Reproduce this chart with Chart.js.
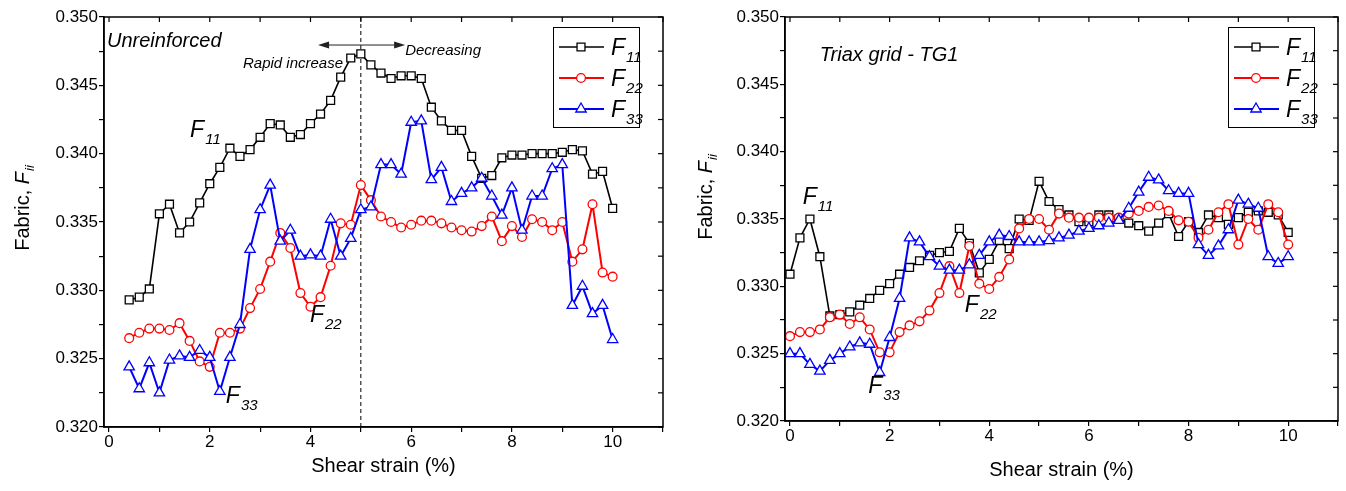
<!DOCTYPE html>
<html>
<head>
<meta charset="utf-8">
<script src="https://cdn.jsdelivr.net/npm/chart.js@4.4.0/dist/chart.umd.min.js"></script>
<style>
  html, body { margin: 0; padding: 0; background: #fff; }
  #wrap { position: relative; width: 1346px; height: 491px; overflow: hidden; }
  canvas { position: absolute; top: 0; }
  #left { left: 0; }
  #right { left: 672px; }
</style>
</head>
<body>
<div id="wrap">
  <canvas id="left" width="672" height="491"></canvas>
  <canvas id="right" width="674" height="491"></canvas>
</div>
<script>
const FONT = '"Liberation Sans", Arial, sans-serif';
Chart.defaults.font.family = FONT;
Chart.defaults.color = '#000';

// --- Unreinforced sample ---
const strainUnreinforced = [
  0.4, 0.6, 0.8, 1.0, 1.2, 1.4, 1.6, 1.8, 2.0, 2.2, 2.4, 2.6, 2.8, 3.0, 3.2, 3.4, 3.6, 3.8,
  4.0, 4.2, 4.4, 4.6, 4.8, 5.0, 5.2, 5.4, 5.6, 5.8, 6.0, 6.2, 6.4, 6.6, 6.8, 7.0, 7.2, 7.4,
  7.6, 7.8, 8.0, 8.2, 8.4, 8.6, 8.8, 9.0, 9.2, 9.4, 9.6, 9.8, 10.0
];
const f11Unreinforced = [
  0.3293, 0.3295, 0.3301, 0.3356, 0.3363, 0.3342, 0.3350, 0.3364, 0.3378, 0.3390, 0.3404, 0.3398,
  0.3403, 0.3412, 0.3422, 0.3421, 0.3412, 0.3414, 0.3422, 0.3429, 0.3439, 0.3456, 0.3470, 0.3473,
  0.3465, 0.3459, 0.3455, 0.3457, 0.3457, 0.3455, 0.3434, 0.3424, 0.3417, 0.3417, 0.3398, 0.3382,
  0.3384, 0.3397, 0.3399, 0.3399, 0.3400, 0.3400, 0.3400, 0.3401, 0.3403, 0.3402, 0.3385, 0.3387,
  0.3360
];
const f22Unreinforced = [
  0.3265, 0.3269, 0.3272, 0.3272, 0.3271, 0.3276, 0.3263, 0.3248, 0.3244, 0.3269, 0.3269, 0.3272,
  0.3287, 0.3301, 0.3321, 0.3342, 0.3331, 0.3298, 0.3288, 0.3295, 0.3318, 0.3349, 0.3348, 0.3377,
  0.3366, 0.3354, 0.3350, 0.3346, 0.3348, 0.3351, 0.3351, 0.3349, 0.3346, 0.3344, 0.3343, 0.3347,
  0.3354, 0.3336, 0.3347, 0.3339, 0.3352, 0.3350, 0.3344, 0.3350, 0.3321, 0.3330, 0.3363, 0.3313,
  0.3310
];
const f33Unreinforced = [
  0.3244, 0.3228, 0.3247, 0.3225, 0.3249, 0.3252, 0.3251, 0.3256, 0.3251, 0.3226, 0.3251, 0.3275,
  0.3330, 0.3359, 0.3377, 0.3336, 0.3344, 0.3325, 0.3326, 0.3325, 0.3352, 0.3325, 0.3338, 0.3359,
  0.3361, 0.3392, 0.3392, 0.3385, 0.3423, 0.3424, 0.3381, 0.3390, 0.3365, 0.3371, 0.3375, 0.3382,
  0.3369, 0.3355, 0.3375, 0.3344, 0.3369, 0.3369, 0.3389, 0.3392, 0.3289, 0.3303, 0.3283, 0.3289,
  0.3264
];

// --- Triax grid TG1 sample ---
const strainTriax = [
  0.0, 0.2, 0.4, 0.6, 0.8, 1.0, 1.2, 1.4, 1.6, 1.8, 2.0, 2.2, 2.4, 2.6, 2.8, 3.0, 3.2, 3.4, 3.6,
  3.8, 4.0, 4.2, 4.4, 4.6, 4.8, 5.0, 5.2, 5.4, 5.6, 5.8, 6.0, 6.2, 6.4, 6.6, 6.8, 7.0, 7.2, 7.4,
  7.6, 7.8, 8.0, 8.2, 8.4, 8.6, 8.8, 9.0, 9.2, 9.4, 9.6, 9.8, 10.0
];
const f11Triax = [
  0.3309, 0.3336, 0.3350, 0.3322, 0.3278, 0.3279, 0.3281, 0.3286, 0.3291, 0.3297, 0.3302, 0.3309,
  0.3314, 0.3319, 0.3323, 0.3325, 0.3326, 0.3343, 0.3332, 0.3310, 0.3320, 0.3334, 0.3328, 0.3350,
  0.3349, 0.3378, 0.3363, 0.3357, 0.3353, 0.3348, 0.3348, 0.3353, 0.3353, 0.3350, 0.3347, 0.3345,
  0.3341, 0.3347, 0.3354, 0.3337, 0.3348, 0.3340, 0.3353, 0.3351, 0.3346, 0.3351, 0.3355, 0.3356,
  0.3355, 0.3353, 0.3340
];
const f22Triax = [
  0.3263, 0.3266, 0.3266, 0.3268, 0.3277, 0.3279, 0.3272, 0.3277, 0.3268, 0.3251, 0.3251, 0.3266,
  0.3271, 0.3274, 0.3282, 0.3295, 0.3315, 0.3295, 0.3330, 0.3302, 0.3298, 0.3307, 0.3320, 0.3343,
  0.3350, 0.3350, 0.3342, 0.3354, 0.3351, 0.3351, 0.3351, 0.3351, 0.3351, 0.3351, 0.3354, 0.3356,
  0.3359, 0.3360, 0.3356, 0.3349, 0.3348, 0.3336, 0.3342, 0.3355, 0.3361, 0.3331, 0.3350, 0.3342,
  0.3361, 0.3355, 0.3331
];
const f33Triax = [
  0.3250, 0.3250, 0.3242, 0.3237, 0.3245, 0.3250, 0.3255, 0.3258, 0.3257, 0.3236, 0.3262, 0.3291,
  0.3336, 0.3333, 0.3322, 0.3315, 0.3312, 0.3312, 0.3316, 0.3323, 0.3333, 0.3338, 0.3337, 0.3333,
  0.3333, 0.3333, 0.3334, 0.3336, 0.3338, 0.3341, 0.3343, 0.3345, 0.3347, 0.3349, 0.3358, 0.3370,
  0.3381, 0.3379, 0.3371, 0.3369, 0.3369, 0.3331, 0.3323, 0.3330, 0.3342, 0.3364, 0.3361, 0.3358,
  0.3322, 0.3317, 0.3322
];

// tick labels
const xTickLabels = ['0', '2', '4', '6', '8', '10'];
const yTickLabels = ['0.320', '0.325', '0.330', '0.335', '0.340', '0.345', '0.350'];

// one entry per fabric component
const seriesStyle = [
  { sub: '11', color: '#000000', width: 1.6, pointStyle: 'rect', radius: 5.6 },
  { sub: '22', color: '#ff0000', width: 2, pointStyle: 'circle', radius: 4.4 },
  { sub: '33', color: '#0000ff', width: 2, pointStyle: 'triangle', radius: 6 }
];

function line(ctx, x1, y1, x2, y2) {
  ctx.beginPath();
  ctx.moveTo(x1, y1);
  ctx.lineTo(x2, y2);
  ctx.stroke();
}

// same shapes as Chart.js point styles, used for the legend
function drawMarker(ctx, s, x, y) {
  const r = s.radius;
  ctx.beginPath();
  if (s.pointStyle === 'rect') {
    const d = r * Math.SQRT1_2;
    ctx.rect(x - d, y - d, 2 * d, 2 * d);
  } else if (s.pointStyle === 'circle') {
    ctx.arc(x, y, r, 0, Math.PI * 2);
  } else {
    ctx.moveTo(x, y - r);
    ctx.lineTo(x + r * 0.866, y + r * 0.5);
    ctx.lineTo(x - r * 0.866, y + r * 0.5);
    ctx.closePath();
  }
  ctx.fillStyle = '#fff';
  ctx.fill();
  ctx.strokeStyle = s.color;
  ctx.lineWidth = 1.3;
  ctx.stroke();
}

// "F" with an italic subscript
function fLabel(ctx, x, y, sub) {
  ctx.fillStyle = '#000';
  ctx.textBaseline = 'alphabetic';
  ctx.textAlign = 'left';
  ctx.font = 'italic 23px ' + FONT;
  ctx.fillText('F', x, y);
  const w = ctx.measureText('F').width;
  ctx.font = 'italic 15px ' + FONT;
  ctx.fillText(sub, x + w + 1, y + 7);
}

function italicText(ctx, text, size, x, y) {
  ctx.fillStyle = '#000';
  ctx.textBaseline = 'alphabetic';
  ctx.textAlign = 'left';
  ctx.font = 'italic ' + size + 'px ' + FONT;
  ctx.fillText(text, x, y);
}

function drawLegend(ctx, area) {
  const w = 86, h = 100;
  const left = area.right - 24 - w, top = area.top + 10;
  ctx.lineWidth = 1;
  ctx.strokeStyle = '#000';
  ctx.strokeRect(left + 0.5, top + 0.5, w, h);
  seriesStyle.forEach((s, i) => {
    const yy = top + 20 + i * 31;
    ctx.strokeStyle = s.color;
    ctx.lineWidth = s.width;
    line(ctx, left + 6, yy, left + 51, yy);
    drawMarker(ctx, s, left + 28, yy);
    fLabel(ctx, left + 58, yy + 8, s.sub);
  });
}

function drawYTitle(ctx, cx, cy) {
  ctx.save();
  ctx.translate(cx, cy);
  ctx.rotate(-Math.PI / 2);
  ctx.fillStyle = '#000';
  ctx.textBaseline = 'alphabetic';
  ctx.textAlign = 'left';
  ctx.font = '20px ' + FONT;
  const w1 = ctx.measureText('Fabric, ').width;
  ctx.font = 'italic 20px ' + FONT;
  const w2 = ctx.measureText('F').width;
  ctx.font = 'italic 13px ' + FONT;
  const w3 = ctx.measureText('ii').width;
  const x0 = -(w1 + w2 + w3 + 1) / 2;
  ctx.font = '20px ' + FONT;
  ctx.fillText('Fabric, ', x0, 7);
  ctx.font = 'italic 20px ' + FONT;
  ctx.fillText('F', x0 + w1, 7);
  ctx.font = 'italic 13px ' + FONT;
  ctx.fillText('ii', x0 + w1 + w2 + 1, 12);
  ctx.restore();
}

function makeChart(id, cfg) {
  const datasets = cfg.series.map((vals, i) => {
    const s = seriesStyle[i];
    return {
      data: cfg.strain.map((x, j) => ({ x: x, y: vals[j] })),
      borderColor: s.color,
      borderWidth: s.width,
      backgroundColor: '#fff',
      pointStyle: s.pointStyle,
      pointRadius: s.radius,
      pointBackgroundColor: '#fff',
      pointBorderColor: s.color,
      pointBorderWidth: 1.3,
      tension: 0,
      order: 2 - i
    };
  });

  const decor = {
    id: 'decor' + id,
    beforeDatasetsDraw(chart) {
      if (cfg.beforeData) cfg.beforeData(chart.ctx, chart);
    },
    afterDraw(chart) {
      const { ctx, chartArea: a, scales: { x, y } } = chart;
      ctx.save();
      // frame + inward ticks on top and right
      ctx.strokeStyle = '#000';
      ctx.lineWidth = 1.5;
      ctx.strokeRect(a.left, a.top, a.right - a.left, a.bottom - a.top);
      ctx.lineWidth = 1.2;
      x.ticks.forEach(t => {
        const px = x.getPixelForValue(t.value);
        line(ctx, px, a.top, px, a.top + 5);
      });
      y.ticks.forEach(t => {
        const py = y.getPixelForValue(t.value);
        line(ctx, a.right, py, a.right - 5, py);
      });
      drawLegend(ctx, a);
      drawYTitle(ctx, cfg.yTitleX, cfg.yTitleY);
      cfg.annotate(ctx, chart);
      ctx.restore();
    }
  };

  return new Chart(document.getElementById(id), {
    type: 'line',
    data: { datasets: datasets },
    options: {
      responsive: false,
      animation: false,
      events: [],
      layout: { padding: { top: 17, right: cfg.padRight, left: 0, bottom: 0 } },
      plugins: { legend: { display: false }, tooltip: { enabled: false } },
      scales: {
        x: {
          type: 'linear',
          min: -0.1,
          max: 11,
          afterFit: s => { s.height = cfg.xAxisHeight; },
          border: { color: '#000', width: 1.5 },
          grid: { drawOnChartArea: false, drawTicks: true, tickLength: 5, color: '#000', lineWidth: 1.2 },
          ticks: {
            stepSize: 1,
            includeBounds: false,
            autoSkip: false,
            maxRotation: 0,
            padding: 0,
            font: { size: 17 },
            callback: v => xTickLabels.includes(String(v)) ? String(v) : ''
          },
          title: {
            display: true,
            text: 'Shear strain (%)',
            font: { size: 20 },
            padding: { top: 0, bottom: cfg.xTitlePad }
          }
        },
        y: {
          min: 0.320,
          max: 0.350,
          afterFit: s => { s.width = cfg.yAxisWidth; },
          border: { color: '#000', width: 1.5 },
          grid: { drawOnChartArea: false, drawTicks: true, tickLength: 5, color: '#000', lineWidth: 1.2 },
          ticks: {
            stepSize: 0.0025,
            autoSkip: false,
            padding: 1,
            font: { size: 17 },
            callback: v => yTickLabels.includes(v.toFixed(3)) ? v.toFixed(3) : ''
          }
        }
      }
    },
    plugins: [decor]
  });
}

makeChart('left', {
  strain: strainUnreinforced,
  series: [f11Unreinforced, f22Unreinforced, f33Unreinforced],
  padRight: 9,
  yAxisWidth: 104,
  xAxisHeight: 64,
  xTitlePad: 13,
  yTitleX: 22,
  yTitleY: 208,
  beforeData(ctx, chart) {
    const { chartArea: a, scales: { x } } = chart;
    const px = x.getPixelForValue(5);
    ctx.save();
    ctx.strokeStyle = '#000';
    ctx.lineWidth = 1;
    ctx.setLineDash([4, 3]);
    line(ctx, px, a.top, px, a.bottom);
    ctx.restore();
  },
  annotate(ctx, chart) {
    const { x, y } = chart.scales;
    italicText(ctx, 'Unreinforced', 20, x.getPixelForValue(-0.04), y.getPixelForValue(0.34781));
    italicText(ctx, 'Rapid increase', 15, x.getPixelForValue(2.66), y.getPixelForValue(0.34627));
    italicText(ctx, 'Decreasing', 15, x.getPixelForValue(5.88), y.getPixelForValue(0.34722));
    // double arrow from the peak
    const ay = y.getPixelForValue(0.34795);
    const xl = x.getPixelForValue(4.15), xr = x.getPixelForValue(5.88);
    ctx.strokeStyle = '#222';
    ctx.fillStyle = '#222';
    ctx.lineWidth = 1;
    line(ctx, xl + 6, ay, xr - 6, ay);
    ctx.beginPath();
    ctx.moveTo(xl, ay); ctx.lineTo(xl + 11, ay - 3.5); ctx.lineTo(xl + 11, ay + 3.5); ctx.closePath(); ctx.fill();
    ctx.beginPath();
    ctx.moveTo(xr, ay); ctx.lineTo(xr - 11, ay - 3.5); ctx.lineTo(xr - 11, ay + 3.5); ctx.closePath(); ctx.fill();
    fLabel(ctx, x.getPixelForValue(1.61), y.getPixelForValue(0.34124), '11');
    fLabel(ctx, x.getPixelForValue(3.99), y.getPixelForValue(0.32771), '22');
    fLabel(ctx, x.getPixelForValue(2.32), y.getPixelForValue(0.32174), '33');
  }
});

makeChart('right', {
  strain: strainTriax,
  series: [f11Triax, f22Triax, f33Triax],
  padRight: 8,
  yAxisWidth: 113,
  xAxisHeight: 70,
  xTitlePad: 9,
  yTitleX: 33,
  yTitleY: 197,
  annotate(ctx, chart) {
    const { x, y } = chart.scales;
    italicText(ctx, 'Triax grid - TG1', 20, x.getPixelForValue(0.60), y.getPixelForValue(0.34673));
    fLabel(ctx, x.getPixelForValue(0.255), y.getPixelForValue(0.33612), '11');
    fLabel(ctx, x.getPixelForValue(3.51), y.getPixelForValue(0.32812), '22');
    fLabel(ctx, x.getPixelForValue(1.57), y.getPixelForValue(0.32209), '33');
  }
});
</script>
</body>
</html>
